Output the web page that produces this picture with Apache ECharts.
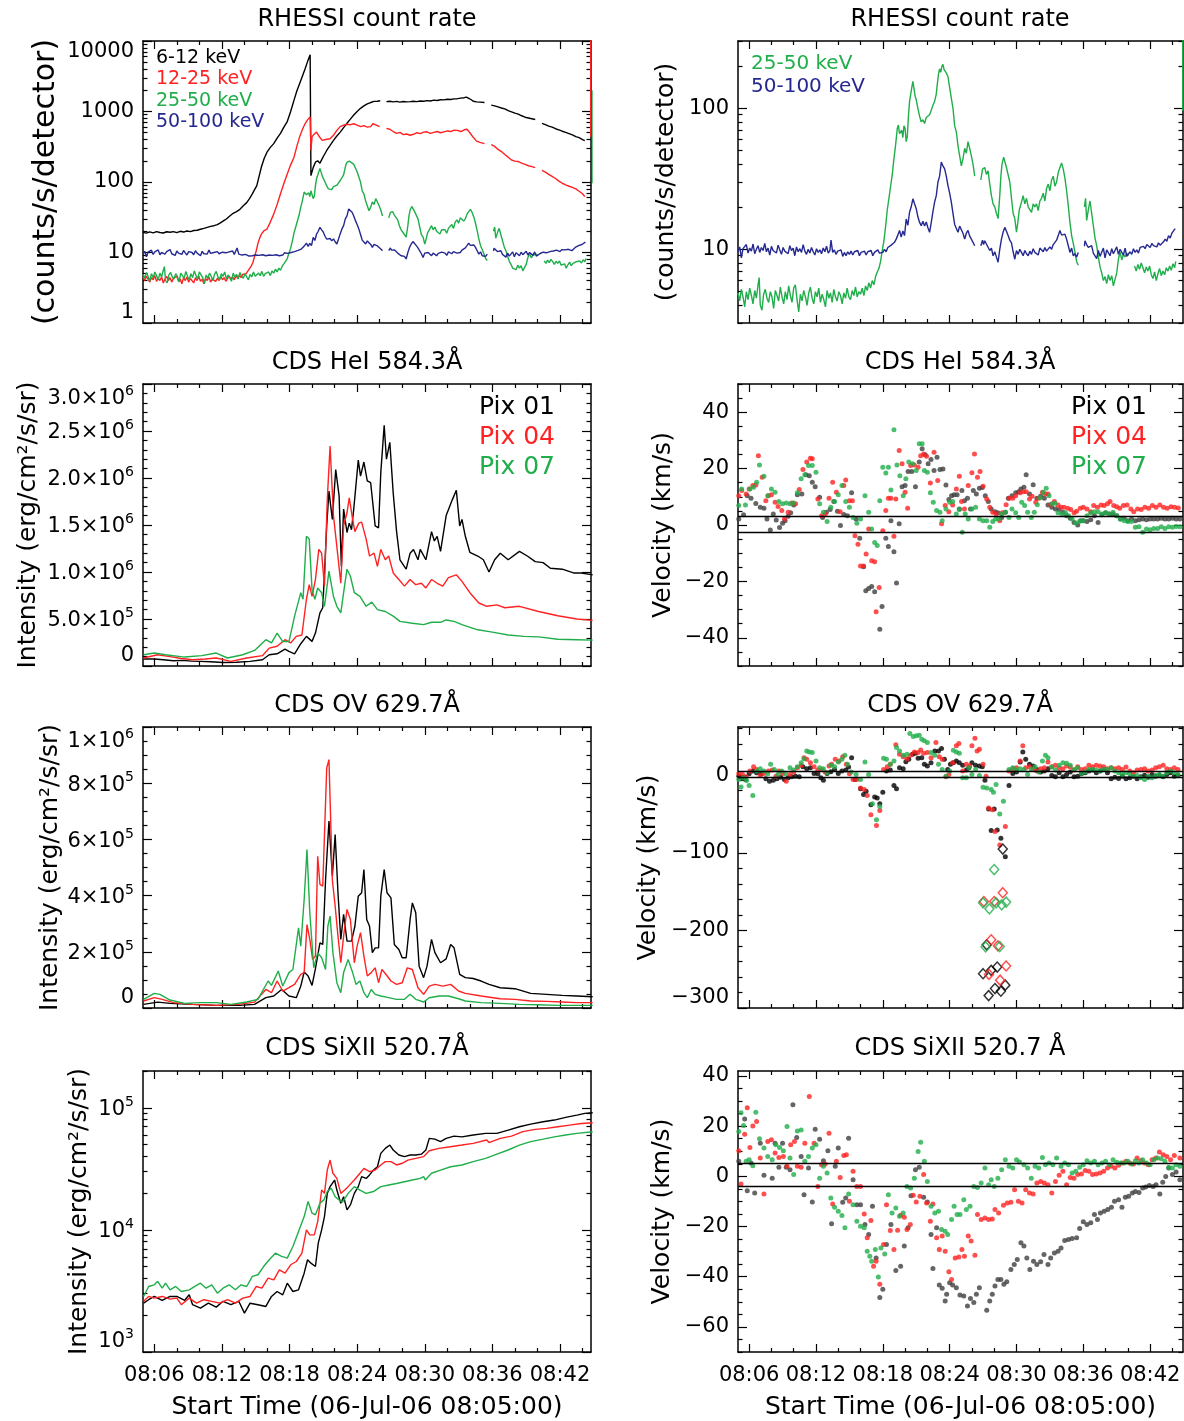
<!DOCTYPE html>
<html><head><meta charset="utf-8">
<script src="https://cdn.jsdelivr.net/npm/echarts@6/dist/echarts.min.js"></script>
<style>html,body{margin:0;padding:0;background:#fff}#c{width:1184px;height:1421px}</style>
</head><body><div id="c"></div>
<script>
// ---------------- DATA (time = minutes after 08:05:00) ----------------
const rhessi_6_12 = [[0,19.3],[0.3,18.8],[0.6,19.6],[0.9,19.0],[1.2,19.8],[1.5,19.2],[1.8,18.9],[2.1,19.7],[2.4,19.4],[2.7,19.8],[3.0,19.1],[3.3,20.0],[3.6,19.5],[3.9,20.2],[4.2,19.8],[4.5,20.5],[4.8,20.7],[5.1,21.4],[5.4,22.0],[5.7,22.7],[6.0,23.5],[6.3,24.0],[6.6,24.8],[6.9,26.5],[7.2,28.5],[7.4,29.9],[7.7,33],[8.0,36],[8.3,38],[8.6,41],[8.9,46],[9.2,51],[9.45,58],[9.7,68],[9.9,78],[10.1,89],[10.3,120],[10.5,162],[10.75,215],[11.0,265],[11.3,310],[11.6,350],[11.9,420],[12.2,490],[12.5,600],[12.8,720],[13.1,1000],[13.4,1450],[13.65,1950],[13.9,2500],[14.15,3200],[14.4,4100],[14.6,5100],[14.83,6400],[14.9,123],[15.1,160],[15.3,191],[15.5,200],[15.7,185],[16.0,230],[16.3,280],[16.6,330],[16.9,390],[17.2,450],[17.5,510],[17.8,590],[18.1,680],[18.4,780],[18.7,890],[19.0,1000],[19.3,1110],[19.6,1200],[19.9,1280],[20.2,1340],[20.5,1390],[20.8,1400],[21.05,1420],[21.3,null],[21.6,1380],[21.9,1400],[22.2,1370],[22.5,1390],[22.8,1360],[23.1,1385],[23.4,1370],[23.7,1380],[24.0,1395],[24.3,1380],[24.6,1410],[24.9,1400],[25.2,1425],[25.5,1410],[25.8,1450],[26.1,1430],[26.4,1470],[26.7,1460],[27.0,1490],[27.3,1480],[27.6,1510],[27.9,1520],[28.2,1550],[28.5,1570],[28.7,1600],[28.9,1540],[29.1,1480],[29.3,1400],[29.6,1370],[29.9,1360],[30.3,1340],[30.6,null],[30.9,1230],[31.2,1200],[31.5,1160],[31.8,1120],[32.1,1090],[32.4,1030],[32.7,990],[33.0,950],[33.3,920],[33.6,870],[33.9,830],[34.2,810],[34.5,790],[34.8,770],[35.1,null],[35.4,680],[35.7,650],[36.0,620],[36.3,600],[36.6,570],[36.9,550],[37.2,525],[37.5,505],[37.8,485],[38.1,465],[38.4,440],[38.7,425],[39.0,400],[39.2,385]];

const rhessi_12_25 = [[0,4.5],[0.15,4.0],[0.3,4.6],[0.45,4.2],[0.6,3.8],[0.75,4.4],[0.9,4.1],[1.05,4.7],[1.2,3.9],[1.35,4.3],[1.5,4.0],[1.65,4.5],[1.8,3.7],[1.95,4.2],[2.1,4.6],[2.25,4.0],[2.4,4.4],[2.55,3.8],[2.7,4.3],[2.85,4.1],[3.0,4.6],[3.15,3.9],[3.3,4.2],[3.45,3.6],[3.6,4.4],[3.75,4.0],[3.9,4.5],[4.05,3.8],[4.2,4.3],[4.35,4.1],[4.5,3.7],[4.65,4.4],[4.8,4.0],[4.95,4.6],[5.1,3.9],[5.25,4.2],[5.4,3.6],[5.55,4.3],[5.7,4.0],[5.85,4.5],[6.0,3.8],[6.15,4.2],[6.3,4.4],[6.45,3.9],[6.6,4.3],[6.75,4.0],[6.9,4.6],[7.05,4.1],[7.2,4.4],[7.35,3.9],[7.5,4.3],[7.65,4.6],[7.8,4.2],[7.95,4.5],[8.1,4.1],[8.25,4.7],[8.4,4.3],[8.55,4.8],[8.7,4.4],[8.85,4.9],[9.0,4.6],[9.15,5.0],[9.3,5.3],[9.45,5.9],[9.6,6.4],[9.75,7.2],[9.9,8.8],[10.05,10.6],[10.2,13.5],[10.35,16],[10.5,18.2],[10.75,20.5],[11.0,21.5],[11.3,27],[11.6,35],[11.9,48],[12.2,68],[12.5,95],[12.8,130],[13.1,175],[13.4,225],[13.65,320],[13.9,440],[14.15,560],[14.4,680],[14.6,760],[14.83,840],[14.9,280],[15.0,440],[15.2,480],[15.4,510],[15.6,450],[15.9,390],[16.2,400],[16.6,410],[16.9,460],[17.2,540],[17.5,610],[17.8,640],[18.1,660],[18.4,650],[18.7,670],[19.0,640],[19.3,610],[19.6,630],[19.9,600],[20.2,610],[20.4,670],[20.6,650],[20.8,630],[21.0,610],[21.3,null],[21.6,575],[21.9,560],[22.2,520],[22.5,490],[22.8,505],[23.1,470],[23.4,480],[23.7,460],[24.0,475],[24.3,500],[24.6,485],[24.9,510],[25.2,515],[25.5,490],[25.8,505],[26.1,520],[26.4,500],[26.7,515],[27.0,530],[27.3,520],[27.6,545],[27.9,540],[28.2,520],[28.5,550],[28.75,560],[29.0,500],[29.3,430],[29.6,380],[29.9,365],[30.3,350],[30.6,null],[30.9,340],[31.2,320],[31.5,290],[31.8,270],[32.1,245],[32.4,225],[32.7,205],[33.0,198],[33.3,195],[33.6,185],[33.9,178],[34.2,170],[34.5,165],[34.8,160],[35.1,null],[35.4,146],[35.7,138],[36.0,128],[36.3,120],[36.6,112],[36.9,103],[37.2,96],[37.5,91],[37.8,87],[38.1,84],[38.4,80],[38.7,74],[39.0,68],[39.2,62],[39.5,null],[39.72,440],[39.72,20000]];

const rhessi_25_50 = [[0,4.9],[0.15,4.3],[0.3,5.2],[0.45,4.6],[0.6,3.9],[0.75,5.0],[0.9,4.4],[1.05,5.3],[1.2,4.7],[1.35,4.1],[1.5,5.1],[1.65,4.5],[1.8,5.6],[1.9,6.3],[2.0,4.0],[2.15,3.7],[2.3,4.8],[2.45,5.2],[2.6,4.5],[2.75,4.2],[2.9,5.0],[3.05,4.6],[3.2,3.8],[3.35,5.1],[3.5,4.7],[3.65,4.3],[3.8,5.4],[3.95,4.6],[4.1,4.1],[4.25,5.0],[4.4,4.4],[4.55,5.5],[4.7,4.7],[4.85,4.2],[5.0,5.3],[5.15,5.6],[5.3,4.4],[5.45,3.6],[5.6,4.8],[5.75,4.3],[5.9,5.1],[6.05,4.6],[6.2,4.0],[6.35,4.9],[6.5,5.4],[6.65,4.5],[6.8,4.1],[6.95,5.0],[7.1,4.6],[7.25,5.3],[7.4,4.2],[7.55,4.8],[7.7,4.4],[7.85,3.9],[8.0,5.1],[8.15,4.5],[8.3,4.9],[8.45,4.2],[8.6,5.2],[8.75,4.6],[8.9,4.3],[9.05,5.0],[9.2,4.7],[9.35,4.1],[9.5,4.9],[9.65,4.5],[9.8,5.3],[9.95,4.6],[10.1,4.4],[10.25,5.1],[10.4,4.7],[10.55,5.4],[10.7,4.6],[10.85,5.0],[11.0,4.8],[11.15,5.3],[11.3,4.7],[11.45,5.5],[11.6,5.1],[11.75,5.8],[11.9,5.3],[12.05,6.0],[12.2,5.6],[12.35,6.4],[12.5,6.9],[12.65,7.3],[12.8,8.2],[12.95,9.8],[13.1,11.5],[13.25,14.5],[13.4,19],[13.55,23],[13.7,28],[13.85,34],[14.0,44],[14.15,55],[14.3,72],[14.4,76],[14.5,66],[14.6,64],[14.7,70],[14.8,62],[14.9,75],[15.0,72],[15.1,58],[15.2,63],[15.3,88],[15.4,112],[15.5,125],[15.6,140],[15.7,155],[15.8,138],[15.9,122],[16.0,115],[16.15,100],[16.3,88],[16.45,80],[16.6,83],[16.75,78],[16.9,86],[17.05,84],[17.2,90],[17.35,97],[17.5,105],[17.65,112],[17.8,126],[17.9,150],[18.0,175],[18.1,190],[18.2,180],[18.3,198],[18.4,205],[18.5,188],[18.6,192],[18.7,178],[18.85,168],[19.0,140],[19.15,118],[19.3,100],[19.45,75],[19.6,68],[19.75,54],[19.9,46],[20.05,39],[20.2,44],[20.35,52],[20.5,48],[20.65,58],[20.8,52],[20.95,46],[21.1,40],[21.25,33],[21.5,null],[21.8,31],[21.95,37],[22.15,38],[22.3,34],[22.45,36],[22.6,29],[22.75,24],[22.9,21],[23.05,20],[23.2,18],[23.35,16.5],[23.5,24],[23.6,33],[23.7,40],[23.85,45],[23.95,44],[24.1,38],[24.25,37],[24.4,30],[24.55,23],[24.7,18],[24.85,16.5],[25.0,13.2],[25.1,15],[25.25,19],[25.45,21.6],[25.6,24],[25.75,21],[25.9,23],[26.05,20],[26.2,19.5],[26.35,18.3],[26.5,21],[26.65,20],[26.8,21],[26.95,18.8],[27.1,22],[27.25,23],[27.4,25],[27.55,22],[27.7,27],[27.85,29],[28.0,26],[28.15,31],[28.3,33],[28.45,28],[28.6,30],[28.75,35],[28.9,38],[29.05,41],[29.2,37],[29.35,32],[29.5,26],[29.65,20.4],[29.8,15.5],[29.95,12.5],[30.1,11],[30.25,9.5],[30.4,8.2],[30.55,7.7],[30.8,null],[31.1,20],[31.2,23],[31.3,16],[31.45,19],[31.6,22],[31.75,18],[31.9,14.7],[32.05,12],[32.2,10.6],[32.35,8.8],[32.5,7.5],[32.65,6.8],[32.8,6.0],[32.95,6.4],[33.1,5.7],[33.25,6.6],[33.4,6.0],[33.55,6.5],[33.7,5.5],[33.85,5.4],[34.0,6.8],[34.15,8.5],[34.3,9.6],[34.45,8.4],[34.6,9.2],[34.75,8.8],[34.9,9.4],[35.05,9.0],[35.3,null],[35.6,7.6],[35.75,7.0],[35.9,7.8],[36.05,7.2],[36.2,8.0],[36.35,7.4],[36.5,6.8],[36.65,7.5],[36.8,7.0],[36.95,7.6],[37.1,6.6],[37.25,6.2],[37.4,6.9],[37.55,6.0],[37.7,6.7],[37.85,7.3],[38.0,6.5],[38.15,7.0],[38.3,6.6],[38.45,7.4],[38.6,7.0],[38.75,7.6],[38.9,7.1],[39.05,7.9],[39.2,7.4],[39.3,8.2],[39.6,null],[39.93,96],[39.93,2000]];

const rhessi_50_100 = [[0,9.6],[0.15,10.4],[0.3,8.7],[0.45,10.1],[0.6,9.9],[0.75,10.8],[0.9,9.4],[1.05,10.2],[1.2,9.7],[1.35,10.9],[1.5,9.3],[1.65,10.0],[1.8,10.6],[1.95,9.5],[2.1,10.3],[2.25,9.8],[2.4,11.0],[2.55,9.6],[2.7,10.2],[2.85,9.1],[3.0,10.5],[3.15,9.8],[3.3,10.1],[3.45,9.4],[3.6,10.7],[3.75,9.9],[3.9,9.2],[4.05,10.3],[4.2,9.7],[4.35,10.0],[4.5,9.3],[4.65,10.6],[4.8,9.8],[4.95,10.2],[5.1,9.0],[5.25,10.4],[5.4,9.6],[5.55,10.1],[5.7,9.5],[5.85,10.8],[6.0,9.7],[6.15,9.2],[6.3,10.0],[6.45,9.4],[6.6,10.3],[6.75,9.6],[6.9,9.1],[7.05,10.1],[7.2,9.5],[7.35,9.9],[7.5,9.3],[7.65,10.2],[7.8,9.6],[7.95,10.5],[8.1,9.4],[8.25,9.8],[8.35,11.6],[8.5,9.5],[8.65,9.9],[8.8,9.2],[8.95,9.7],[9.1,9.4],[9.25,9.9],[9.4,8.9],[9.55,9.5],[9.7,9.0],[9.85,9.6],[10.0,9.2],[10.15,9.7],[10.3,9.1],[10.45,9.6],[10.6,9.3],[10.75,9.8],[10.9,9.0],[11.05,9.5],[11.2,9.2],[11.35,9.7],[11.5,9.1],[11.65,9.6],[11.8,9.3],[11.95,9.8],[12.1,9.0],[12.25,9.5],[12.4,9.2],[12.55,9.9],[12.7,9.4],[12.85,9.7],[13.0,9.5],[13.15,10.0],[13.3,9.6],[13.45,10.3],[13.6,10.0],[13.75,10.7],[13.9,10.5],[14.05,11.2],[14.2,11.8],[14.35,12.6],[14.5,13.6],[14.65,12.2],[14.8,13.5],[14.95,12.5],[15.1,16.4],[15.25,14.8],[15.4,18.3],[15.55,20],[15.7,22.8],[15.85,21],[16.0,19.4],[16.15,17],[16.3,15.5],[16.45,14.7],[16.6,15.8],[16.75,14.6],[16.9,15.6],[17.05,14.2],[17.2,13.2],[17.35,15.5],[17.5,18.5],[17.65,21.6],[17.8,24],[17.95,30],[18.1,33],[18.25,41.5],[18.4,39],[18.55,37.2],[18.7,33],[18.85,28.3],[19.0,25],[19.15,21.6],[19.3,18],[19.45,15],[19.6,14.7],[19.75,13.2],[19.9,14.6],[20.05,14.3],[20.2,13],[20.35,11.8],[20.5,13.0],[20.65,13.6],[20.8,12.4],[20.95,11.8],[21.1,11.2],[21.25,10.6],[21.5,null],[21.8,10.6],[21.95,11.6],[22.05,10.8],[22.15,11.5],[22.3,10.9],[22.45,10.6],[22.6,9.8],[22.75,10.2],[22.9,9.0],[23.05,9.6],[23.2,8.8],[23.35,8.1],[23.5,10.0],[23.65,11.8],[23.8,13.2],[23.95,14.3],[24.1,13.4],[24.25,12.5],[24.4,11.6],[24.55,11.1],[24.7,9.6],[24.85,8.5],[25.0,9.8],[25.15,9.2],[25.3,10.0],[25.45,9.5],[25.6,9.0],[25.75,9.8],[25.9,9.3],[26.05,9.0],[26.2,9.7],[26.35,9.2],[26.5,10.1],[26.65,9.5],[26.8,9.8],[26.95,9.1],[27.1,10.2],[27.25,10.0],[27.4,9.6],[27.55,10.3],[27.7,9.7],[27.85,9.8],[28.0,10.4],[28.15,10.0],[28.3,10.8],[28.45,10.6],[28.6,11.6],[28.75,12.5],[28.9,13.6],[29.05,12.6],[29.2,12.2],[29.35,12.8],[29.5,11.8],[29.65,10.6],[29.8,9.5],[29.95,10.2],[30.1,9.0],[30.25,9.3],[30.4,8.8],[30.55,9.5],[30.8,null],[31.1,10.5],[31.15,11.5],[31.3,10.8],[31.45,10.3],[31.6,10.0],[31.75,10.6],[31.9,9.4],[32.05,9.5],[32.2,8.6],[32.35,9.8],[32.5,8.9],[32.65,9.0],[32.8,10.2],[32.95,8.7],[33.1,9.9],[33.25,9.8],[33.4,9.0],[33.55,10.1],[33.7,9.3],[33.85,9.5],[34.0,10.4],[34.15,9.2],[34.3,10.0],[34.45,10.0],[34.6,9.1],[34.75,10.2],[34.9,8.9],[35.05,8.8],[35.2,9.6],[35.35,9.2],[35.5,10.1],[35.65,9.5],[35.8,9.9],[35.95,9.4],[36.1,10.3],[36.25,10.0],[36.4,10.5],[36.55,10.1],[36.7,10.8],[36.85,10.6],[37.0,10.3],[37.15,11.0],[37.3,10.6],[37.45,10.9],[37.6,10.4],[37.75,11.1],[37.9,10.7],[38.05,10.6],[38.2,11.3],[38.35,11.8],[38.5,11.4],[38.65,12.5],[38.8,12.0],[38.95,13.0],[39.1,13.4],[39.25,14.0]];

const hei_int_pix01 = [[0.05,7.4e4],[1,7.4e4],[1.8,6.6e4],[2.7,5.6e4],[3.5,6.0e4],[4.3,5.2e4],[5.1,4.9e4],[6.0,4.5e4],[7.1,3.8e4],[8.3,4.0e4],[9.5,4.9e4],[10.6,6.7e4],[11.2,1.2e5],[11.9,1.3e5],[12.6,1.8e5],[12.95,1.55e5],[13.45,1.3e5],[14.0,2.37e5],[14.5,3.15e5],[15.0,2.62e5],[15.3,3.5e5],[15.7,5.65e5],[15.95,6.2e5],[16.1,9.9e5],[16.3,1.49e6],[16.5,1.86e6],[16.8,1.56e6],[17.1,2.09e6],[17.4,1.81e6],[17.6,1.06e6],[17.8,1.67e6],[18.1,1.42e6],[18.3,1.52e6],[18.5,1.45e6],[18.7,1.67e6],[19.1,2.19e6],[19.3,2.02e6],[19.6,2.17e6],[19.9,1.97e6],[20.2,1.95e6],[20.6,1.49e6],[20.9,1.47e6],[21.1,2.06e6],[21.4,2.56e6],[21.6,2.2e6],[21.9,2.38e6],[22.2,1.84e6],[22.5,1.43e6],[22.8,1.13e6],[23.35,1.03e6],[23.7,1.2e6],[24.0,1.24e6],[24.4,1.13e6],[24.6,1.24e6],[25.1,1.13e6],[25.6,1.43e6],[25.85,1.33e6],[26.1,1.38e6],[26.4,1.22e6],[26.9,1.6e6],[27.45,1.77e6],[27.8,1.87e6],[28.1,1.49e6],[28.3,1.56e6],[28.6,1.38e6],[29.0,1.21e6],[29.7,1.17e6],[30.2,1.13e6],[30.7,1.0e6],[31.2,1.13e6],[31.7,1.2e6],[32.4,1.13e6],[33.4,1.22e6],[34.1,1.17e6],[34.8,1.11e6],[35.5,1.1e6],[36.15,1.04e6],[37.2,1.03e6],[38.2,9.9e5],[38.9,9.9e5],[39.9,9.7e5]];
const hei_int_pix04 = [[0.05,8.5e4],[1.3,1.2e5],[2.4,1.0e5],[3.4,8.0e4],[4.4,6.7e4],[5.5,7.5e4],[6.5,8.5e4],[7.8,4.9e4],[9.2,8.5e4],[10.6,1.1e5],[11.2,1.9e5],[11.9,2.1e5],[12.6,2.8e5],[13.1,2.45e5],[13.6,3.15e5],[14.1,3.3e5],[14.5,7.1e5],[14.75,8.65e5],[15.0,7.4e5],[15.3,9.2e5],[15.6,1.24e6],[15.85,1.2e6],[16.1,8.5e5],[16.35,1.77e6],[16.6,2.34e6],[16.9,1.6e6],[17.2,1.27e6],[17.55,8.8e5],[17.8,1.49e6],[18.1,1.63e6],[18.3,1.79e6],[18.6,1.56e6],[18.8,1.43e6],[19.15,1.52e6],[19.4,1.53e6],[19.8,1.35e6],[20.1,1.17e6],[20.5,1.2e6],[20.8,1.06e6],[21.1,1.24e6],[21.5,1.13e6],[21.8,1.17e6],[22.2,9.9e5],[22.7,9.2e5],[23.2,8.5e5],[23.7,9.2e5],[24.2,8.65e5],[24.7,8.8e5],[25.1,8.3e5],[25.6,9.2e5],[26.1,8.8e5],[26.6,8.5e5],[27.1,9.4e5],[27.8,9.7e5],[28.3,9.0e5],[29.0,7.8e5],[29.8,6.7e5],[30.5,6.35e5],[31.4,6.5e5],[32.1,6.2e5],[33.4,6.35e5],[35.1,5.8e5],[36.8,5.35e5],[38.5,5.0e5],[39.9,4.85e5]];
const hei_int_pix07 = [[0.05,1.2e5],[1.0,1.38e5],[2.0,1.2e5],[3.7,9.5e4],[5.2,1.1e5],[6.5,1.38e5],[7.5,8.5e4],[8.85,1.2e5],[9.9,1.66e5],[10.9,2.8e5],[11.4,2.45e5],[11.9,3.5e5],[12.4,2.6e5],[12.95,2.6e5],[13.45,5.3e5],[14.0,7.8e5],[14.2,7.1e5],[14.5,1.38e6],[14.75,1.35e6],[15.0,8.1e5],[15.25,7.1e5],[15.5,8.3e5],[15.85,7.8e5],[16.1,6.35e5],[16.5,1.01e6],[16.9,7.4e5],[17.2,6.35e5],[17.55,5.65e5],[17.8,7.8e5],[18.1,1.03e6],[18.4,9.55e5],[18.75,7.8e5],[19.25,7.4e5],[19.8,6.35e5],[20.3,6.8e5],[20.8,6.0e5],[21.5,5.8e5],[22.2,5.3e5],[22.8,4.75e5],[23.9,4.55e5],[24.9,4.4e5],[25.6,4.65e5],[26.4,4.65e5],[26.9,4.9e5],[27.6,4.75e5],[28.3,4.4e5],[29.7,3.85e5],[31.0,3.6e5],[32.4,3.3e5],[33.8,3.15e5],[35.1,3.1e5],[36.8,2.85e5],[38.5,2.8e5],[39.9,2.75e5]];

const ov_int_pix01 = [[0.05,13000],[1.3,21000],[2.4,16600],[4.4,13000],[6.5,9500],[8.5,9500],[9.9,13000],[10.9,36700],[11.6,42600],[12.3,66000],[12.95,42600],[13.6,36700],[14.0,78000],[14.3,128000],[14.65,114000],[15.0,80500],[15.3,140000],[15.7,232000],[15.95,226000],[16.2,457000],[16.5,665000],[16.8,470000],[17.05,617000],[17.3,410000],[17.55,244000],[17.8,333000],[18.1,238000],[18.5,238000],[18.8,291000],[19.1,398000],[19.4,410000],[19.6,493000],[19.85,315000],[20.1,291000],[20.35,197000],[20.6,214000],[20.9,214000],[21.1,398000],[21.4,493000],[21.65,410000],[22.0,392000],[22.3,226000],[22.7,208000],[23.0,179000],[23.35,179000],[23.7,315000],[23.9,374000],[24.2,339000],[24.5,149000],[24.9,108000],[25.2,149000],[25.6,244000],[25.9,197000],[26.4,161000],[26.9,175000],[27.3,226000],[27.6,214000],[28.1,120000],[28.6,108000],[29.3,105000],[30.0,96000],[30.7,84000],[31.7,72000],[33.0,68700],[34.4,52000],[35.8,48600],[37.2,45000],[38.5,42600],[39.9,40000]];
const ov_int_pix04 = [[0.05,25000],[1.0,36700],[1.7,30800],[2.7,19000],[4.4,13000],[6.5,9500],[8.5,13000],[9.9,21000],[10.9,66000],[11.4,54500],[11.9,96000],[12.4,60400],[12.95,72300],[13.45,84000],[14.0,120000],[14.3,126000],[14.55,297000],[14.8,244000],[15.05,173000],[15.3,185000],[15.5,540000],[15.7,440000],[15.95,434000],[16.3,854000],[16.5,884000],[16.8,457000],[17.05,362000],[17.3,256000],[17.55,161000],[17.8,256000],[18.1,351000],[18.4,315000],[18.75,161000],[19.0,220000],[19.3,268000],[19.6,185000],[19.9,114000],[20.25,126000],[20.6,143000],[20.9,90000],[21.2,137000],[21.55,120000],[22.0,96000],[22.5,84000],[23.0,90000],[23.45,143000],[23.9,137000],[24.4,72300],[24.9,48600],[25.4,78000],[25.9,84000],[26.6,78000],[27.3,84000],[28.0,60400],[28.6,52000],[30.0,42600],[31.7,33000],[33.0,30800],[34.4,25000],[35.8,23700],[37.2,21300],[38.5,19000],[39.9,19000]];
const ov_int_pix07 = [[0.05,30800],[1.0,52000],[1.5,48600],[2.4,28400],[3.7,16600],[5.1,19000],[6.5,19000],[7.8,13000],[9.2,21300],[10.2,30800],[11.1,96000],[11.4,80500],[12.0,131500],[12.4,78000],[12.95,126000],[13.3,137000],[13.8,285000],[14.0,220000],[14.3,386000],[14.55,564000],[14.8,339000],[15.15,143000],[15.5,197000],[15.85,179000],[16.2,137000],[16.4,291000],[16.6,327000],[16.85,197000],[17.2,90000],[17.55,54500],[17.8,126000],[18.2,173000],[18.6,126000],[18.9,84000],[19.25,96000],[19.6,54500],[19.9,36700],[20.25,66000],[20.6,48600],[21.1,42600],[21.8,36700],[22.5,30800],[23.2,30800],[23.7,48600],[24.2,30800],[24.9,21300],[25.4,36700],[26.3,42600],[27.1,42600],[28.0,33000],[28.6,25000],[30.0,19000],[31.7,16600],[33.4,13000],[35.1,11800],[36.8,9500],[38.5,9500],[39.9,9500]];

const si_int_pix01 = [[0.05,2510],[0.5,2680],[1.0,2850],[1.7,2650],[2.4,2850],[3.0,2850],[3.7,2650],[4.1,2940],[4.4,2440],[5.1,2290],[5.8,2510],[6.5,2330],[7.1,2600],[7.8,2440],[8.5,2600],[9.0,2080],[9.5,2510],[10.2,2440],[10.9,2360],[11.4,2850],[11.9,3130],[12.4,2940],[12.8,3660],[13.3,3130],[13.8,3230],[14.3,4420],[14.6,5690],[14.9,5340],[15.3,5010],[15.55,7780],[15.85,10000],[16.1,12850],[16.35,19900],[16.6,22600],[17.0,25600],[17.2,21200],[17.55,16500],[17.8,18700],[18.1,14600],[18.4,16000],[18.75,19900],[19.1,22600],[19.4,27300],[19.8,26400],[20.1,28200],[20.45,30900],[20.8,32900],[21.1,42300],[21.5,46500],[21.9,49500],[22.2,45100],[22.7,41000],[23.2,39800],[23.7,41000],[24.2,41000],[24.7,41700],[25.1,45100],[25.4,56100],[25.9,55300],[26.4,52800],[26.9,56100],[27.6,58600],[28.3,57800],[29.3,59800],[30.4,61700],[31.4,61700],[32.4,65600],[33.4,69900],[34.4,73500],[35.5,76800],[36.5,79300],[37.5,83400],[38.5,87100],[39.2,89900],[39.9,91000]];
const si_int_pix04 = [[0.05,2600],[0.5,2850],[1.0,2760],[1.7,2850],[2.4,2710],[3.0,2760],[3.4,2440],[4.1,2760],[4.75,2510],[5.4,2680],[6.1,2600],[6.8,2510],[7.5,2680],[8.2,2510],[8.85,2760],[9.5,2850],[10.05,3440],[10.55,3330],[11.1,4030],[11.6,3900],[12.1,4710],[12.6,4420],[13.1,5180],[13.6,5510],[14.1,6440],[14.5,10000],[14.8,9100],[15.2,9100],[15.5,11700],[15.85,21200],[16.1,19900],[16.35,30900],[16.6,37300],[16.85,29100],[17.2,26400],[17.55,19900],[17.9,21200],[18.2,22600],[18.75,25600],[19.25,29100],[19.6,31900],[20.1,30000],[20.6,30900],[21.1,34000],[21.5,36200],[22.0,36200],[22.5,34000],[23.0,35100],[23.5,37300],[24.2,38500],[24.9,39800],[25.4,44500],[26.25,46500],[27.3,48000],[28.3,49500],[29.3,51100],[30.5,54400],[30.7,51900],[31.7,56100],[32.7,58600],[33.7,63700],[34.8,66500],[35.8,67800],[36.8,69900],[37.85,72100],[38.9,74400],[39.9,75400]];
const si_int_pix07 = [[0.05,2850],[0.5,3440],[1.0,3550],[1.3,3790],[1.7,3330],[2.0,3660],[2.4,3230],[2.9,3440],[3.4,3130],[4.1,3230],[4.6,3440],[5.1,3660],[5.6,3330],[6.1,3550],[6.6,3030],[7.1,3330],[7.65,3550],[8.2,3230],[8.7,3550],[9.2,3440],[9.7,4160],[10.2,4290],[10.7,5010],[11.2,5690],[11.75,6440],[12.3,6070],[12.8,5870],[13.3,7310],[13.8,9680],[14.3,12850],[14.65,17100],[15.0,13700],[15.3,13300],[15.7,16500],[16.05,17600],[16.35,20600],[16.7,21900],[17.05,18700],[17.4,17600],[17.7,16900],[18.2,19900],[18.75,22600],[19.25,21200],[19.8,19900],[20.45,20600],[21.1,22600],[21.8,23300],[22.5,24000],[23.2,24800],[23.9,25600],[24.6,26400],[24.9,27300],[25.05,25600],[25.6,29100],[26.4,30900],[27.3,32900],[28.3,34000],[29.3,36200],[30.4,38500],[31.4,41700],[32.4,45100],[33.4,49500],[34.4,52800],[35.5,55300],[36.5,57800],[37.5,59800],[38.5,61700],[39.9,63700]];

const hei_vel_pix01 = [[0.07,2.1],[0.5,3.6],[0.83,10.4],[1.17,9.5],[1.6,7.6],[2.0,6.3],[2.33,5.9],[2.6,2.1],[2.9,-1.8],[3.17,3.9],[3.43,1.8],[3.73,-0.9],[4.0,0.6],[4.23,1.5],[4.5,3.1],[4.73,4.3],[5.0,7.1],[5.33,10.7],[5.73,11.0],[6.1,17.8],[6.4,17.5],[6.67,15.2],[6.93,13.6],[7.33,9.8],[7.6,2.7],[7.93,4.5],[8.27,5.5],[8.6,8.3],[8.93,4.9],[9.2,-0.2],[9.5,3.7],[9.83,3.3],[10.2,11.4],[10.6,2.1],[10.93,-4.7],[11.27,-14.8],[11.47,-23.3],[11.73,-22.5],[12.0,-21.8],[12.27,-23.7],[12.73,-37.0],[12.93,-28.9],[13.27,-4.7],[13.5,-7.6],[13.73,1.5],[14.0,-9.5],[14.23,-20.6],[14.47,0.4],[14.73,13.6],[15.0,14.0],[15.27,19.0],[15.6,19.0],[15.93,13.6],[16.27,22.3],[16.53,27.0],[16.8,24.9],[17.07,21.7],[17.33,23.2],[17.6,19.3],[17.87,24.0],[18.13,19.7],[18.4,19.9],[18.67,14.2],[18.93,9.0],[19.17,10.4],[19.4,10.7],[19.67,10.7],[19.87,5.7],[20.1,12.2],[20.33,8.6],[20.6,9.5],[20.87,5.7],[21.13,12.2],[21.4,11.0],[21.67,13.0],[21.93,13.3],[22.2,10.4],[22.47,8.3],[22.73,5.7],[23.07,4.7],[23.33,4.3],[23.67,2.7],[24.0,4.5],[24.27,9.5],[24.6,10.4],[24.93,11.4],[25.2,11.8],[25.4,12.8],[25.67,13.4],[25.87,17.8],[26.17,11.0],[26.5,14.3],[26.83,9.5],[27.17,10.2],[27.5,9.5],[27.83,7.1],[28.17,6.3],[28.5,5.7],[28.83,5.5],[29.17,4.5],[29.5,3.3],[29.83,2.4],[30.17,0.9],[30.5,0.0],[30.77,1.5],[31.0,1.5],[31.33,1.2],[31.67,1.9],[32.0,3.3],[32.33,0.9],[32.67,3.6],[33.0,4.3],[33.33,3.9],[33.67,3.9],[34.0,3.3],[34.33,2.1],[34.67,2.4],[35.0,1.5],[35.33,2.1],[35.67,1.5],[36.0,1.9],[36.33,2.1],[36.67,1.9],[37.0,2.1],[37.33,2.1],[37.67,2.1],[38.0,2.4],[38.33,2.1],[38.67,2.1],[39.0,2.4],[39.33,2.1],[39.67,2.1]];
const hei_vel_pix04 = [[0.07,10.4],[0.33,12.2],[0.73,11.0],[1.0,12.8],[1.33,14.0],[1.6,14.2],[1.83,24.6],[2.17,16.9],[2.5,8.6],[2.73,10.4],[3.0,10.7],[3.33,8.1],[3.6,6.6],[3.93,5.1],[4.17,2.1],[4.5,4.5],[4.83,7.8],[5.17,7.5],[5.5,12.6],[5.83,19.7],[6.17,22.3],[6.5,23.7],[6.67,23.5],[7.17,9.2],[7.5,3.3],[7.83,3.9],[8.17,9.5],[8.5,15.2],[8.83,11.6],[9.17,4.7],[9.5,14.0],[9.67,16.0],[10.0,8.6],[10.27,8.6],[10.5,-3.8],[10.77,-6.8],[11.0,-14.5],[11.27,-14.5],[11.5,-10.3],[11.73,-1.4],[12.0,-12.7],[12.27,-13.0],[12.4,-30.8],[12.67,-22.2],[13.0,-2.0],[13.27,5.1],[13.5,9.5],[13.73,9.5],[14.0,-4.0],[14.17,9.2],[14.47,26.4],[14.73,21.7],[15.0,11.6],[15.23,5.9],[15.5,21.1],[15.83,21.3],[16.17,20.5],[16.4,24.6],[16.67,25.2],[16.93,24.4],[17.27,14.9],[17.6,25.8],[17.93,15.8],[18.27,0.4],[18.6,6.9],[18.93,4.7],[19.27,7.1],[19.6,12.8],[19.87,17.3],[20.07,8.3],[20.33,5.7],[20.67,14.0],[21.0,18.5],[21.23,25.2],[21.5,16.9],[21.73,19.0],[22.0,13.7],[22.33,9.2],[22.6,6.3],[22.87,4.5],[23.17,3.9],[23.5,1.5],[23.73,4.3],[24.07,7.2],[24.33,9.5],[24.67,9.5],[24.93,10.4],[25.33,11.4],[25.6,11.8],[25.87,11.8],[26.17,9.2],[26.4,10.2],[26.73,8.1],[27.0,9.5],[27.33,11.6],[27.6,11.0],[27.83,11.0],[28.07,7.3],[28.4,8.3],[28.73,7.1],[29.0,6.3],[29.27,6.3],[29.6,5.9],[29.87,5.5],[30.17,4.3],[30.4,4.9],[30.73,5.9],[31.0,6.3],[31.33,5.7],[31.67,4.7],[31.93,6.9],[32.27,6.3],[32.6,7.1],[32.87,6.9],[33.17,7.5],[33.4,8.3],[33.73,6.9],[34.0,6.5],[34.27,5.9],[34.6,6.9],[34.93,7.1],[35.27,5.7],[35.53,4.7],[35.87,5.7],[36.2,5.5],[36.53,6.3],[36.87,5.9],[37.2,6.9],[37.53,6.3],[37.87,7.1],[38.2,6.3],[38.53,5.9],[38.87,6.5],[39.2,6.3],[39.53,6.0]];
const hei_vel_pix07 = [[0.07,6.9],[0.33,12.8],[0.67,7.1],[1.07,12.8],[1.4,13.4],[1.67,15.2],[1.93,21.3],[2.33,17.3],[2.67,10.4],[3.0,12.8],[3.33,11.6],[3.67,8.3],[4.0,7.5],[4.33,7.8],[4.67,7.5],[5.0,7.8],[5.33,11.4],[5.67,16.4],[6.0,17.8],[6.33,21.1],[6.67,21.1],[7.0,18.7],[7.33,7.5],[7.67,4.5],[8.0,1.2],[8.33,6.3],[8.67,8.3],[9.0,10.7],[9.33,14.0],[9.67,8.3],[10.0,6.3],[10.33,2.7],[10.67,0.6],[11.0,2.1],[11.4,10.4],[11.73,4.5],[12.0,-1.4],[12.27,-6.2],[12.5,-7.3],[12.73,8.6],[13.0,20.5],[13.27,18.4],[13.5,20.5],[13.73,12.4],[14.0,33.8],[14.27,21.3],[14.53,17.5],[14.83,10.4],[15.07,16.4],[15.33,22.3],[15.67,21.7],[16.0,19.3],[16.27,28.8],[16.53,28.8],[16.73,19.3],[17.0,18.7],[17.27,11.4],[17.53,8.1],[17.83,5.1],[18.13,4.5],[18.33,1.5],[18.67,5.7],[19.0,8.1],[19.27,8.3],[19.6,3.9],[19.87,5.5],[20.13,-2.6],[20.4,3.9],[20.67,2.1],[21.0,5.7],[21.33,6.3],[21.67,2.1],[22.0,1.5],[22.33,1.5],[22.6,-0.8],[22.87,1.2],[23.13,2.1],[23.4,2.1],[23.67,3.9],[24.0,4.5],[24.33,2.7],[24.6,5.7],[24.93,4.3],[25.2,2.7],[25.47,8.1],[25.73,6.9],[26.0,4.5],[26.33,2.7],[26.6,4.5],[26.87,7.2],[27.13,9.7],[27.4,11.6],[27.67,13.0],[27.93,10.4],[28.2,7.5],[28.47,7.7],[28.73,4.3],[29.07,3.9],[29.4,4.3],[29.67,3.3],[30.0,2.1],[30.33,0.7],[30.67,1.3],[31.0,1.5],[31.33,3.3],[31.67,4.3],[32.0,4.7],[32.33,4.7],[32.67,3.9],[33.0,4.3],[33.33,3.9],[33.67,4.5],[34.0,3.3],[34.33,2.1],[34.67,1.5],[35.0,1.2],[35.33,1.2],[35.67,-0.8],[36.0,-0.6],[36.33,-2.6],[36.67,-1.4],[37.0,-1.7],[37.33,-1.2],[37.67,-1.2],[38.0,-0.6],[38.33,-1.2],[38.67,-0.6],[39.0,-0.8],[39.33,-0.5],[39.67,-0.6]];
const hei_vel_lines = [3.2, -2.4];

const ov_vel_pix01 = [[0.07,-1.3],[0.33,-4.8],[0.67,-5.6],[1.0,1.7],[1.33,5.2],[1.67,3.0],[2.07,1.7],[2.5,-4.8],[2.83,-7.8],[3.17,-6.5],[3.5,-4.8],[3.83,-2.6],[4.17,-5.6],[4.5,-3.5],[4.83,-2.2],[5.17,-1.3],[5.5,-2.2],[5.83,10.8],[6.17,8.2],[6.5,9.5],[6.83,2.2],[7.17,1.7],[7.43,-3.5],[7.67,-6.5],[8.0,2.2],[8.33,4.3],[8.67,7.4],[9.0,2.2],[9.33,5.2],[9.67,6.5],[9.93,10.4],[10.2,22.5],[10.5,-5.6],[11.0,-17.7],[11.27,-25.1],[11.5,-20.8],[11.93,-38.1],[12.27,-28.1],[12.5,-29.4],[12.73,-36.8],[13.0,-22.1],[13.33,5.2],[13.67,6.5],[14.0,-13.4],[14.23,-17.7],[14.5,9.5],[14.83,8.2],[15.07,17.3],[15.33,20.3],[15.67,26.8],[15.93,28.1],[16.17,21.6],[16.5,22.5],[16.73,13.9],[17.0,11.7],[17.33,16.0],[17.67,31.2],[18.0,31.2],[18.27,34.2],[18.53,20.3],[18.83,7.4],[19.07,13.9],[19.33,16.0],[19.6,18.2],[19.87,16.0],[20.17,12.6],[20.5,6.5],[20.73,9.5],[21.0,16.0],[21.33,12.6],[21.67,11.7],[21.93,10.8],[22.17,-6.5],[22.5,-43.7],[22.73,-71.4],[23.0,-43.7],[23.27,-70.6],[23.6,-81.4],[24.0,-105.2],[24.33,-13.4],[24.67,2.2],[25.0,3.9],[25.33,16.9],[25.57,29.9],[25.83,20.3],[26.17,13.9],[26.5,11.7],[26.83,7.4],[27.17,3.9],[27.5,5.2],[27.83,8.2],[28.17,-0.4],[28.5,-2.2],[28.83,3.0],[29.17,-2.2],[29.5,0.9],[29.83,3.9],[30.17,-2.2],[30.5,-1.3],[30.83,1.7],[31.17,3.0],[31.5,5.2],[31.83,6.5],[32.17,3.0],[32.5,5.2],[32.83,7.4],[33.17,3.0],[33.5,-4.8],[33.83,-2.6],[34.17,-4.3],[34.5,-1.3],[34.83,-4.8],[35.17,-3.5],[35.5,-1.3],[35.83,-4.8],[36.17,-2.2],[36.5,0.0],[36.83,-2.6],[37.17,0.9],[37.5,-1.3],[37.83,-0.4],[38.17,-2.2],[38.5,0.9],[38.83,3.0],[39.17,-1.3],[39.5,-0.4]];
const ov_vel_pix04 = [[0.07,2.2],[0.4,0.9],[0.73,-2.2],[1.07,5.2],[1.4,10.8],[1.67,7.4],[2.0,-0.4],[2.33,2.2],[2.73,5.2],[3.07,6.5],[3.4,-1.3],[3.67,5.2],[4.0,2.2],[4.33,-7.8],[4.67,0.9],[5.0,3.9],[5.33,9.5],[5.67,12.6],[5.93,22.5],[6.17,20.3],[6.5,16.0],[6.83,10.8],[7.17,6.5],[7.5,7.4],[7.83,3.9],[8.17,11.7],[8.4,13.9],[8.73,20.3],[9.07,18.2],[9.4,23.8],[9.73,13.9],[10.0,1.7],[10.33,-5.6],[10.67,-5.6],[11.0,-16.5],[11.33,-18.6],[11.6,-26.4],[11.93,-51.1],[12.43,-64.9],[12.73,-45.5],[13.07,7.4],[13.4,10.8],[13.67,13.9],[14.17,39.0],[14.5,26.8],[14.83,23.8],[15.17,21.2],[15.5,25.5],[15.83,29.9],[16.17,29.0],[16.4,32.5],[16.67,28.1],[17.0,29.0],[17.33,22.5],[17.77,42.0],[18.07,23.8],[18.33,20.3],[18.67,-2.2],[18.93,0.9],[19.27,16.0],[19.6,37.7],[19.83,40.7],[20.17,5.2],[20.5,13.9],[20.8,11.7],[21.0,37.7],[21.27,47.6],[21.47,31.2],[21.67,33.3],[22.0,13.9],[22.27,-1.3],[22.5,-42.4],[22.83,-44.6],[23.07,-72.7],[23.5,-90.0],[24.0,-66.2],[24.33,5.2],[24.67,8.2],[25.0,9.5],[25.33,18.2],[25.57,37.7],[25.83,9.5],[26.17,10.8],[26.5,7.4],[26.83,5.2],[27.17,8.2],[27.5,9.5],[27.83,16.9],[28.17,10.8],[28.5,12.6],[28.83,9.5],[29.17,8.2],[29.5,11.7],[29.83,10.4],[30.17,6.5],[30.5,10.8],[30.83,7.4],[31.17,8.2],[31.5,12.6],[31.83,10.8],[32.17,12.6],[32.5,11.7],[32.83,10.8],[33.17,8.2],[33.5,9.5],[33.83,8.2],[34.17,9.5],[34.5,7.4],[34.83,10.4],[35.17,5.2],[35.5,3.0],[35.83,6.5],[36.17,7.4],[36.5,8.2],[36.83,5.2],[37.17,6.5],[37.5,9.5],[37.83,10.8],[38.17,12.6],[38.5,8.2],[38.83,7.4],[39.17,9.5],[39.5,7.4]];
const ov_vel_pix07 = [[0.07,-5.6],[0.27,-15.2],[0.5,-3.5],[0.77,-6.9],[1.0,-13.4],[1.33,-26.4],[1.67,5.2],[2.0,8.2],[2.33,5.2],[2.67,1.7],[2.93,13.9],[3.27,7.4],[3.6,0.9],[3.93,5.2],[4.27,1.7],[4.67,9.5],[5.0,6.5],[5.33,10.8],[5.67,16.0],[5.93,21.2],[6.17,31.2],[6.4,29.9],[6.67,29.0],[7.0,18.2],[7.33,9.5],[7.67,8.2],[8.0,3.0],[8.33,12.6],[8.67,10.8],[9.0,16.9],[9.33,20.3],[9.6,25.5],[9.83,13.9],[10.17,3.9],[10.6,0.9],[11.0,-5.6],[11.4,16.9],[11.73,0.9],[12.07,-36.8],[12.43,-57.6],[12.73,-40.3],[13.07,21.6],[13.33,20.3],[13.67,13.9],[14.0,18.2],[14.23,35.5],[14.5,31.2],[14.83,25.5],[15.17,26.8],[15.43,53.7],[15.73,49.8],[16.0,50.6],[16.27,51.5],[16.5,46.3],[16.73,44.2],[17.0,42.0],[17.33,29.0],[17.67,25.5],[18.0,13.9],[18.33,7.4],[18.67,-1.3],[19.0,5.2],[19.33,32.0],[19.6,29.9],[19.87,28.1],[20.17,-3.5],[20.5,-3.5],[20.73,9.5],[21.0,0.9],[21.33,7.4],[21.67,-0.4],[22.0,-15.6],[22.33,-16.5],[22.73,-18.6],[22.93,-22.1],[23.17,-12.1],[23.5,-50.2],[23.83,-33.8],[24.33,7.4],[24.67,9.5],[25.0,6.5],[25.33,8.2],[25.67,7.4],[26.0,0.9],[26.33,7.4],[26.67,10.8],[27.0,3.9],[27.33,18.2],[27.6,25.5],[27.83,22.5],[28.17,10.4],[28.5,6.5],[28.83,12.6],[29.17,16.0],[29.5,15.2],[29.83,12.6],[30.17,7.4],[30.5,9.5],[30.83,2.2],[31.17,3.9],[31.5,7.4],[31.83,7.4],[32.17,6.5],[32.5,5.2],[32.83,7.4],[33.17,7.4],[33.5,9.5],[33.83,5.2],[34.17,3.0],[34.5,0.9],[34.83,3.0],[35.17,1.7],[35.5,-1.3],[35.83,-0.4],[36.17,-3.5],[36.5,-5.6],[36.83,-1.3],[37.17,-3.5],[37.5,-0.4],[37.83,0.9],[38.17,-1.3],[38.5,3.0],[38.83,5.2],[39.17,3.0],[39.5,0.9]];
const ov_vel_pix01_fit2 = [[23.77,-95.2],[22.33,-218.6],[22.0,-255.8],[22.5,-284.0],[22.73,-251.5],[23.27,-247.2],[23.07,-274.9],[23.6,-278.4],[24.0,-270.6]];
const ov_vel_pix04_fit2 = [[22.07,-162.8],[23.0,-162.8],[23.77,-151.5],[22.73,-212.1],[23.33,-219.9],[22.53,-256.7],[23.53,-264.1],[24.07,-245.9]];
const ov_vel_pix07_fit2 = [[23.0,-121.6],[22.0,-164.5],[22.57,-172.3],[23.17,-164.5],[23.67,-167.1],[24.07,-163.6],[22.23,-221.2],[23.5,-220.8]];
const ov_vel_lines = [5.2, -2.2];

const si_vel_pix01 = [[0.07,6.0],[0.6,22.9],[0.83,-5.7],[1.17,5.3],[1.5,-6.6],[2.0,13.2],[2.33,0.4],[3.07,-0.7],[3.33,13.2],[3.67,3.6],[4.0,13.2],[4.33,3.6],[4.67,2.6],[4.93,28.5],[5.27,15.5],[5.67,7.9],[5.93,-7.3],[6.33,3.3],[6.67,-10.2],[6.93,18.8],[7.33,14.8],[7.67,6.2],[8.07,10.2],[8.4,-18.9],[8.73,4.0],[9.0,11.3],[9.4,-10.3],[9.67,-8.6],[9.93,15.2],[10.33,-1.3],[10.67,-11.3],[11.0,-11.3],[11.4,-19.2],[11.73,-23.2],[12.07,-11.9],[12.4,-32.5],[12.73,-48.3],[13.0,-45.0],[13.33,-27.2],[13.73,-19.2],[14.17,-37.5],[14.6,-35.8],[14.93,-27.8],[15.27,-20.5],[15.53,-7.7],[15.93,2.6],[16.27,3.6],[16.67,-8.3],[17.0,-10.2],[17.33,-23.2],[17.5,-36.7],[17.83,-20.5],[18.07,-43.3],[18.33,-44.6],[18.6,-49.7],[18.73,-47.0],[19.0,-42.4],[19.27,-43.3],[19.6,-44.4],[19.93,-47.3],[20.27,-47.7],[20.6,-51.7],[20.87,-48.7],[21.17,-50.3],[21.4,-47.0],[21.67,-44.4],[22.33,-53.4],[22.6,-49.7],[22.83,-47.0],[23.07,-43.7],[23.33,-41.1],[23.6,-41.1],[23.87,-43.0],[24.13,-42.0],[24.5,-37.1],[24.8,-35.1],[25.07,-33.1],[25.4,-26.5],[25.67,-27.8],[25.93,-32.5],[26.2,-37.1],[26.53,-33.8],[26.83,-35.1],[27.17,-34.0],[27.47,-31.1],[27.83,-35.1],[28.07,-32.5],[28.4,-30.5],[28.73,-29.8],[29.0,-28.5],[29.33,-25.6],[29.67,-25.2],[30.0,-24.8],[30.4,-24.5],[30.67,-20.8],[31.0,-18.1],[31.33,-19.2],[31.67,-18.5],[32.0,-15.2],[32.27,-17.2],[32.53,-14.6],[32.87,-13.9],[33.2,-13.2],[33.53,-12.3],[33.8,-9.9],[34.17,-9.3],[34.47,-12.3],[34.77,-8.3],[35.07,-7.9],[35.4,-6.6],[35.67,-6.0],[36.0,-6.4],[36.33,-4.6],[36.6,-4.2],[36.93,-3.6],[37.27,-4.0],[37.53,-3.3],[37.87,-7.0],[38.13,-2.3],[38.4,0.0],[38.67,3.3],[39.0,0.7],[39.33,1.7],[39.67,-1.3]];
const si_vel_pix04 = [[0.07,10.2],[0.27,-3.0],[0.6,16.8],[0.83,27.4],[1.07,11.5],[1.33,20.1],[1.67,21.9],[2.0,7.3],[2.33,-7.0],[2.67,13.9],[3.0,14.6],[3.33,9.3],[3.67,7.5],[4.07,7.9],[4.4,4.0],[4.73,12.6],[5.07,13.9],[5.33,4.0],[5.67,3.6],[6.0,13.2],[6.4,31.8],[6.83,13.2],[7.17,-4.0],[7.5,4.6],[7.83,4.9],[8.17,17.2],[8.5,-11.0],[8.83,6.0],[9.17,-0.4],[9.5,8.3],[9.73,8.6],[10.0,-9.9],[10.33,2.0],[10.67,-4.0],[11.0,-4.0],[11.33,-15.0],[11.6,-24.5],[11.93,-17.6],[12.17,-35.8],[12.4,-33.8],[12.73,-43.0],[13.07,-27.2],[13.33,-11.3],[13.67,-21.6],[14.0,-29.1],[14.33,-21.5],[14.6,-15.5],[14.93,-16.3],[15.17,-21.2],[15.47,-19.2],[15.73,-7.5],[16.0,-10.2],[16.33,-7.9],[16.67,0.7],[16.93,-10.6],[17.27,-17.9],[17.5,-11.0],[17.83,-24.5],[18.07,-29.1],[18.33,-23.8],[18.6,-29.8],[18.93,-38.0],[19.17,-41.1],[19.5,-32.5],[19.83,-32.1],[20.1,-29.1],[20.33,-31.8],[20.67,-23.8],[20.93,-25.8],[21.27,-31.4],[21.5,-15.2],[21.83,-17.2],[22.17,-16.6],[22.5,-17.2],[22.83,-17.0],[23.07,-13.2],[23.4,-14.6],[23.83,-11.5],[24.17,-10.6],[24.5,-10.3],[24.83,-5.3],[25.17,-9.9],[25.5,-10.6],[25.83,-5.3],[26.17,-6.6],[26.5,-7.0],[26.83,-2.6],[27.17,-2.0],[27.5,-2.6],[27.83,-3.3],[28.17,-6.6],[28.5,-2.0],[28.83,0.4],[29.17,2.0],[29.5,-3.3],[29.83,-0.4],[30.17,-0.7],[30.5,0.7],[30.83,0.9],[31.17,2.3],[31.5,2.0],[31.83,0.7],[32.17,0.9],[32.5,1.3],[32.83,2.0],[33.17,3.3],[33.5,4.0],[33.83,3.3],[34.17,4.4],[34.5,5.3],[34.83,6.0],[35.17,5.3],[35.5,4.9],[35.83,7.3],[36.17,6.2],[36.5,5.3],[36.83,4.6],[37.17,6.6],[37.5,7.3],[37.83,9.7],[38.17,8.6],[38.5,7.9],[38.83,6.6],[39.17,8.3],[39.67,7.3]];
const si_vel_pix07 = [[0.07,17.9],[0.27,25.4],[0.5,20.3],[0.73,6.0],[1.0,6.6],[1.33,4.2],[1.6,25.6],[1.93,15.0],[2.33,11.3],[2.67,7.9],[3.07,6.6],[3.4,12.6],[3.73,11.5],[4.07,10.2],[4.4,19.9],[4.67,7.3],[5.0,0.7],[5.33,18.1],[5.67,18.5],[6.0,6.0],[6.33,7.9],[6.67,11.3],[7.0,12.6],[7.33,-0.7],[7.67,4.0],[8.0,1.3],[8.33,-8.6],[8.67,-12.3],[9.0,-13.9],[9.33,-15.6],[9.6,-20.5],[9.93,-7.0],[10.33,-11.3],[10.67,-17.9],[11.0,-19.9],[11.33,-20.5],[11.6,-29.8],[11.83,-31.8],[12.0,-33.8],[12.33,-29.1],[12.6,-40.1],[12.83,-28.5],[13.17,-30.9],[13.5,-7.3],[13.83,-14.6],[14.17,-12.6],[14.5,-15.9],[14.83,-14.6],[15.17,-4.0],[15.5,-4.6],[15.83,-0.7],[16.17,9.9],[16.4,13.6],[16.73,6.0],[17.0,-2.0],[17.33,-11.9],[17.67,-14.6],[18.0,-13.9],[18.27,-21.2],[18.6,-21.9],[18.83,-23.2],[19.17,-17.2],[19.4,-11.9],[19.67,-15.2],[19.93,-15.2],[20.27,-9.3],[20.5,-13.2],[20.83,-11.9],[21.17,-4.0],[21.5,-4.4],[21.83,-2.6],[22.17,3.3],[22.5,-3.3],[22.73,-1.3],[23.0,-4.0],[23.33,-0.7],[23.67,2.6],[24.0,6.6],[24.33,4.0],[24.67,3.3],[25.0,6.6],[25.27,5.7],[25.67,4.6],[26.0,3.3],[26.33,-0.7],[26.67,4.0],[27.0,3.3],[27.33,7.5],[27.6,4.6],[27.93,5.3],[28.27,4.6],[28.6,7.3],[29.0,4.0],[29.33,5.3],[29.67,4.6],[30.0,1.3],[30.33,2.0],[30.67,3.6],[31.0,4.6],[31.33,6.2],[31.67,5.3],[32.0,6.0],[32.33,4.6],[32.67,5.3],[33.0,6.0],[33.33,4.6],[33.67,6.6],[34.0,5.6],[34.33,5.3],[34.67,5.3],[35.0,6.0],[35.33,4.9],[35.67,6.2],[36.0,5.3],[36.33,6.6],[36.67,5.3],[37.0,4.6],[37.33,6.6],[37.67,7.3],[38.0,7.0],[38.33,6.0],[38.67,3.6],[39.0,3.3],[39.33,4.6],[39.67,4.0]];
const si_vel_lines = [5.3, -4.0];

// tick values
const xMajorTicks = [1, 7, 13, 19, 25, 31, 37];
const xMinorTicks = [3, 5, 9, 11, 15, 17, 21, 23, 27, 29, 33, 35, 39];
const rhessiLTicks = [1, 10, 100, 1000, 10000];
const rhessiRTicks = [10, 100];
const heiIntTicks = [0, 5e5, 1e6, 1.5e6, 2e6, 2.5e6, 3e6];
const heiVelTicks = [-40, -20, 0, 20, 40];
const ovIntTicks = [0, 2e5, 4e5, 6e5, 8e5, 1e6];
const ovVelTicks = [-300, -200, -100, 0];
const siIntTicks = [1e3, 1e4, 1e5];
const siVelTicks = [-60, -40, -20, 0, 20, 40];

// ---------------- STYLE ----------------
const FF = "'DejaVu Sans', sans-serif";
const COL = {k: '#000000', kd: '#3f3f3f', r: '#ff2222', g: '#1fae4a', b: '#25298f'};
const GRIDS = [
  {left: 143, top: 41, width: 448, height: 282},
  {left: 738, top: 41, width: 445, height: 282},
  {left: 143, top: 384, width: 448, height: 282},
  {left: 738, top: 384, width: 445, height: 282},
  {left: 143, top: 727, width: 448, height: 281},
  {left: 738, top: 727, width: 445, height: 281},
  {left: 143, top: 1071, width: 448, height: 281},
  {left: 738, top: 1071, width: 445, height: 281}
];
const XMAX = [39.75, 39.95, 39.75, 39.95, 39.75, 39.95, 39.75, 39.95];

function range(a, b, s) { const o = []; for (let v = a; v <= b + 1e-9; v += s) o.push(Math.round(v * 1000) / 1000); return o; }
function logMinor(decs, extra) { const o = []; decs.forEach(d => { for (let m = 2; m <= 9; m++) o.push(m * d); }); return o.concat(extra || []); }
function without(arr, ex) { return arr.filter(v => !ex.some(e => Math.abs(e - v) < 1e-6 * Math.max(1, Math.abs(v)))); }
function minus(v) { return v < 0 ? '\u2212' + (-v) : String(v); }
function timeFmt(v) { const m = 5 + Math.round(v); return '08:' + (m < 10 ? '0' : '') + m; }
function sciFmt(dec) { return function (v) { if (v === 0) return '0'; const e = Math.floor(Math.log10(v) + 1e-9); const m = v / Math.pow(10, e); return '{m|' + m.toFixed(dec) + '\u00d710}{e|' + e + '}'; }; }
function powFmt(v) { const e = Math.round(Math.log10(v)); return '{m|10}{e|' + e + '}'; }
const RICH = {
  m: {fontSize: 21, fontFamily: FF, color: '#000', lineHeight: 25, verticalAlign: 'bottom'},
  e: {fontSize: 14, fontFamily: FF, color: '#000', lineHeight: 14, verticalAlign: 'top'}
};

const AXL = {show: true, onZero: false, lineStyle: {color: '#000', width: 1.5}};
const TKS = {color: '#000', width: 1.2};

const xAxes = [], yAxes = [];
function addX(gi, bottomRow) {
  const base = {type: 'value', gridIndex: gi, min: 0, max: XMAX[gi], splitLine: {show: false}, silent: true};
  xAxes.push(Object.assign({}, base, {position: 'bottom', axisLine: AXL,
    axisTick: {show: true, inside: true, length: 8, customValues: xMajorTicks, lineStyle: TKS},
    axisLabel: {show: bottomRow, customValues: xMajorTicks, formatter: timeFmt, color: '#000', fontSize: 21, fontFamily: FF, margin: 13},
    name: bottomRow ? 'Start Time (06-Jul-06 08:05:00)' : '', nameLocation: 'middle', nameGap: 43, nameMoveOverlap: false,
    nameTextStyle: {color: '#000', fontSize: 25, fontFamily: FF}}));
  xAxes.push(Object.assign({}, base, {position: 'bottom', axisLine: {show: false, onZero: false},
    axisTick: {show: true, inside: true, length: 4, customValues: xMinorTicks, lineStyle: TKS}, axisLabel: {show: false}}));
  xAxes.push(Object.assign({}, base, {position: 'top', axisLine: AXL,
    axisTick: {show: true, inside: true, length: 8, customValues: xMajorTicks, lineStyle: TKS}, axisLabel: {show: false}}));
  xAxes.push(Object.assign({}, base, {position: 'top', axisLine: {show: false, onZero: false},
    axisTick: {show: true, inside: true, length: 4, customValues: xMinorTicks, lineStyle: TKS}, axisLabel: {show: false}}));
}
function addY(gi, c) {
  const base = {type: c.type, gridIndex: gi, min: c.min, max: c.max, splitLine: {show: false}, silent: true};
  if (c.type === 'log') base.logBase = 10;
  const lab = {show: true, customValues: c.major, formatter: c.fmt, color: '#000', fontSize: 21, fontFamily: FF, margin: 9, rich: RICH};
  if (c.pullTop) lab.verticalAlignMaxLabel = 'top';
  if (c.pullBottom) lab.verticalAlignMinLabel = 'bottom';
  yAxes.push(Object.assign({}, base, {position: 'left', axisLine: AXL,
    axisTick: {show: true, inside: true, length: 9, customValues: c.major, lineStyle: TKS},
    axisLabel: lab,
    name: c.name, nameLocation: 'middle', nameRotate: 90, nameGap: c.gap, nameMoveOverlap: false,
    nameTextStyle: {color: '#000', fontSize: c.nsize, fontFamily: FF}}));
  yAxes.push(Object.assign({}, base, {position: 'left', axisLine: {show: false, onZero: false},
    axisTick: {show: true, inside: true, length: 4.5, customValues: c.minor, lineStyle: TKS}, axisLabel: {show: false}}));
  yAxes.push(Object.assign({}, base, {position: 'right', axisLine: AXL,
    axisTick: {show: true, inside: true, length: 9, customValues: c.major, lineStyle: TKS}, axisLabel: {show: false}}));
  yAxes.push(Object.assign({}, base, {position: 'right', axisLine: {show: false, onZero: false},
    axisTick: {show: true, inside: true, length: 4.5, customValues: c.minor, lineStyle: TKS}, axisLabel: {show: false}}));
}

const INT_NAME = 'Intensity (erg/cm\u00b2/s/sr)';
const VEL_NAME = 'Velocity (km/s)';
const YCFG = [
  {type: 'log', min: 1, max: 10000, major: rhessiLTicks, minor: logMinor([1, 10, 100, 1000]), fmt: v => String(v), name: '(counts/s/detector)', nsize: 30, gap: 82, pullTop: true, pullBottom: true},
  {type: 'log', min: 3, max: 300, major: rhessiRTicks, minor: [3, 4, 5, 6, 7, 8, 9].concat(logMinor([10]), [200, 300]), fmt: v => String(v), name: '(counts/s/detector)', nsize: 25, gap: 59},
  {type: 'value', min: 0, max: 3e6, major: heiIntTicks, minor: without(range(0, 3e6, 1e5), heiIntTicks), fmt: sciFmt(1), name: INT_NAME, nsize: 25, gap: 102, pullTop: true, pullBottom: true},
  {type: 'value', min: -50, max: 50, major: heiVelTicks, minor: without(range(-50, 50, 5), heiVelTicks), fmt: minus, name: VEL_NAME, nsize: 25, gap: 62},
  {type: 'value', min: 0, max: 1e6, major: ovIntTicks, minor: without(range(0, 1e6, 5e4), ovIntTicks), fmt: sciFmt(0), name: INT_NAME, nsize: 25, gap: 80, pullTop: true, pullBottom: true},
  {type: 'value', min: -300, max: 62, major: ovVelTicks, minor: without(range(-300, 60, 20), ovVelTicks), fmt: minus, name: VEL_NAME, nsize: 25, gap: 77, pullBottom: true},
  {type: 'log', min: 1e3, max: 2e5, major: siIntTicks, minor: logMinor([1e3, 1e4], [2e5]), fmt: powFmt, name: INT_NAME, nsize: 25, gap: 51, pullBottom: true},
  {type: 'value', min: -70, max: 42, major: siVelTicks, minor: without(range(-70, 40, 5), siVelTicks), fmt: minus, name: VEL_NAME, nsize: 25, gap: 63}
];
for (let i = 0; i < 8; i++) { addX(i, i >= 6); addY(i, YCFG[i]); }

function lineS(gi, data, color) {
  return {type: 'line', xAxisIndex: gi * 4, yAxisIndex: gi * 4, data: data, showSymbol: false, symbol: 'none',
    lineStyle: {color: color, width: 1.4}, itemStyle: {color: color}, connectNulls: false, clip: true, animation: false, silent: true};
}
function dotS(gi, data, color, lines) {
  const s = {type: 'scatter', xAxisIndex: gi * 4, yAxisIndex: gi * 4, data: data, symbol: 'circle', symbolSize: 5,
    itemStyle: {color: color}, clip: true, animation: false, silent: true};
  if (lines) s.markLine = {symbol: ['none', 'none'], silent: true, animation: false, label: {show: false},
    lineStyle: {color: '#000', width: 1.3, type: 'solid'}, data: lines.map(v => ({yAxis: v}))};
  return s;
}
function diaS(gi, data, color) {
  return {type: 'scatter', xAxisIndex: gi * 4, yAxisIndex: gi * 4, data: data, symbol: 'diamond', symbolSize: [9, 10],
    itemStyle: {color: 'rgba(0,0,0,0)', borderColor: color, borderWidth: 1.5}, clip: true, animation: false, silent: true};
}

const series = [
  lineS(0, rhessi_6_12, COL.k), lineS(0, rhessi_12_25, COL.r), lineS(0, rhessi_25_50, COL.g), lineS(0, rhessi_50_100, COL.b),
  lineS(1, rhessi_25_50, COL.g), lineS(1, rhessi_50_100, COL.b),
  lineS(2, hei_int_pix01, COL.k), lineS(2, hei_int_pix04, COL.r), lineS(2, hei_int_pix07, COL.g),
  dotS(3, hei_vel_pix01, COL.kd, hei_vel_lines), dotS(3, hei_vel_pix04, COL.r), dotS(3, hei_vel_pix07, COL.g),
  lineS(4, ov_int_pix01, COL.k), lineS(4, ov_int_pix04, COL.r), lineS(4, ov_int_pix07, COL.g),
  dotS(5, ov_vel_pix01, COL.k, ov_vel_lines), dotS(5, ov_vel_pix04, COL.r), dotS(5, ov_vel_pix07, COL.g),
  diaS(5, ov_vel_pix01_fit2, COL.k), diaS(5, ov_vel_pix04_fit2, COL.r), diaS(5, ov_vel_pix07_fit2, COL.g),
  lineS(6, si_int_pix01, COL.k), lineS(6, si_int_pix04, COL.r), lineS(6, si_int_pix07, COL.g),
  dotS(7, si_vel_pix01, COL.kd, si_vel_lines), dotS(7, si_vel_pix04, COL.r), dotS(7, si_vel_pix07, COL.g)
];

function txt(x, y, s, color, size, align) {
  return {type: 'text', x: x, y: y, silent: true, style: {text: s, fill: color, fontSize: size, fontFamily: FF, align: align || 'left', verticalAlign: 'middle'}};
}
const graphics = [
  txt(367, 20, 'RHESSI count rate', '#000', 24, 'center'),
  txt(960, 20, 'RHESSI count rate', '#000', 24, 'center'),
  txt(367, 363, 'CDS HeI 584.3\u00c5', '#000', 24, 'center'),
  txt(960, 363, 'CDS HeI 584.3\u00c5', '#000', 24, 'center'),
  txt(367, 706, 'CDS OV 629.7\u00c5', '#000', 24, 'center'),
  txt(960, 706, 'CDS OV 629.7\u00c5', '#000', 24, 'center'),
  txt(367, 1049, 'CDS SiXII 520.7\u00c5', '#000', 24, 'center'),
  txt(960, 1049, 'CDS SiXII 520.7 \u00c5', '#000', 24, 'center'),
  txt(156, 58, '6-12 keV', COL.k, 19), txt(156, 79, '12-25 keV', COL.r, 19),
  txt(156, 101, '25-50 keV', COL.g, 19), txt(156, 122, '50-100 keV', COL.b, 19),
  txt(751, 64, '25-50 keV', COL.g, 20), txt(751, 87, '50-100 keV', COL.b, 20),
  txt(479, 407, 'Pix 01', COL.k, 25), txt(479, 437, 'Pix 04', COL.r, 25), txt(479, 467, 'Pix 07', COL.g, 25),
  txt(1071, 407, 'Pix 01', COL.k, 25), txt(1071, 437, 'Pix 04', COL.r, 25), txt(1071, 467, 'Pix 07', COL.g, 25)
];

const chart = echarts.init(document.getElementById('c'), null, {renderer: 'canvas'});
chart.setOption({
  animation: false,
  backgroundColor: '#ffffff',
  grid: GRIDS.map(g => Object.assign({containLabel: false, outerBoundsMode: 'none'}, g)),
  xAxis: xAxes,
  yAxis: yAxes,
  series: series,
  graphic: graphics
});
</script></body></html>
